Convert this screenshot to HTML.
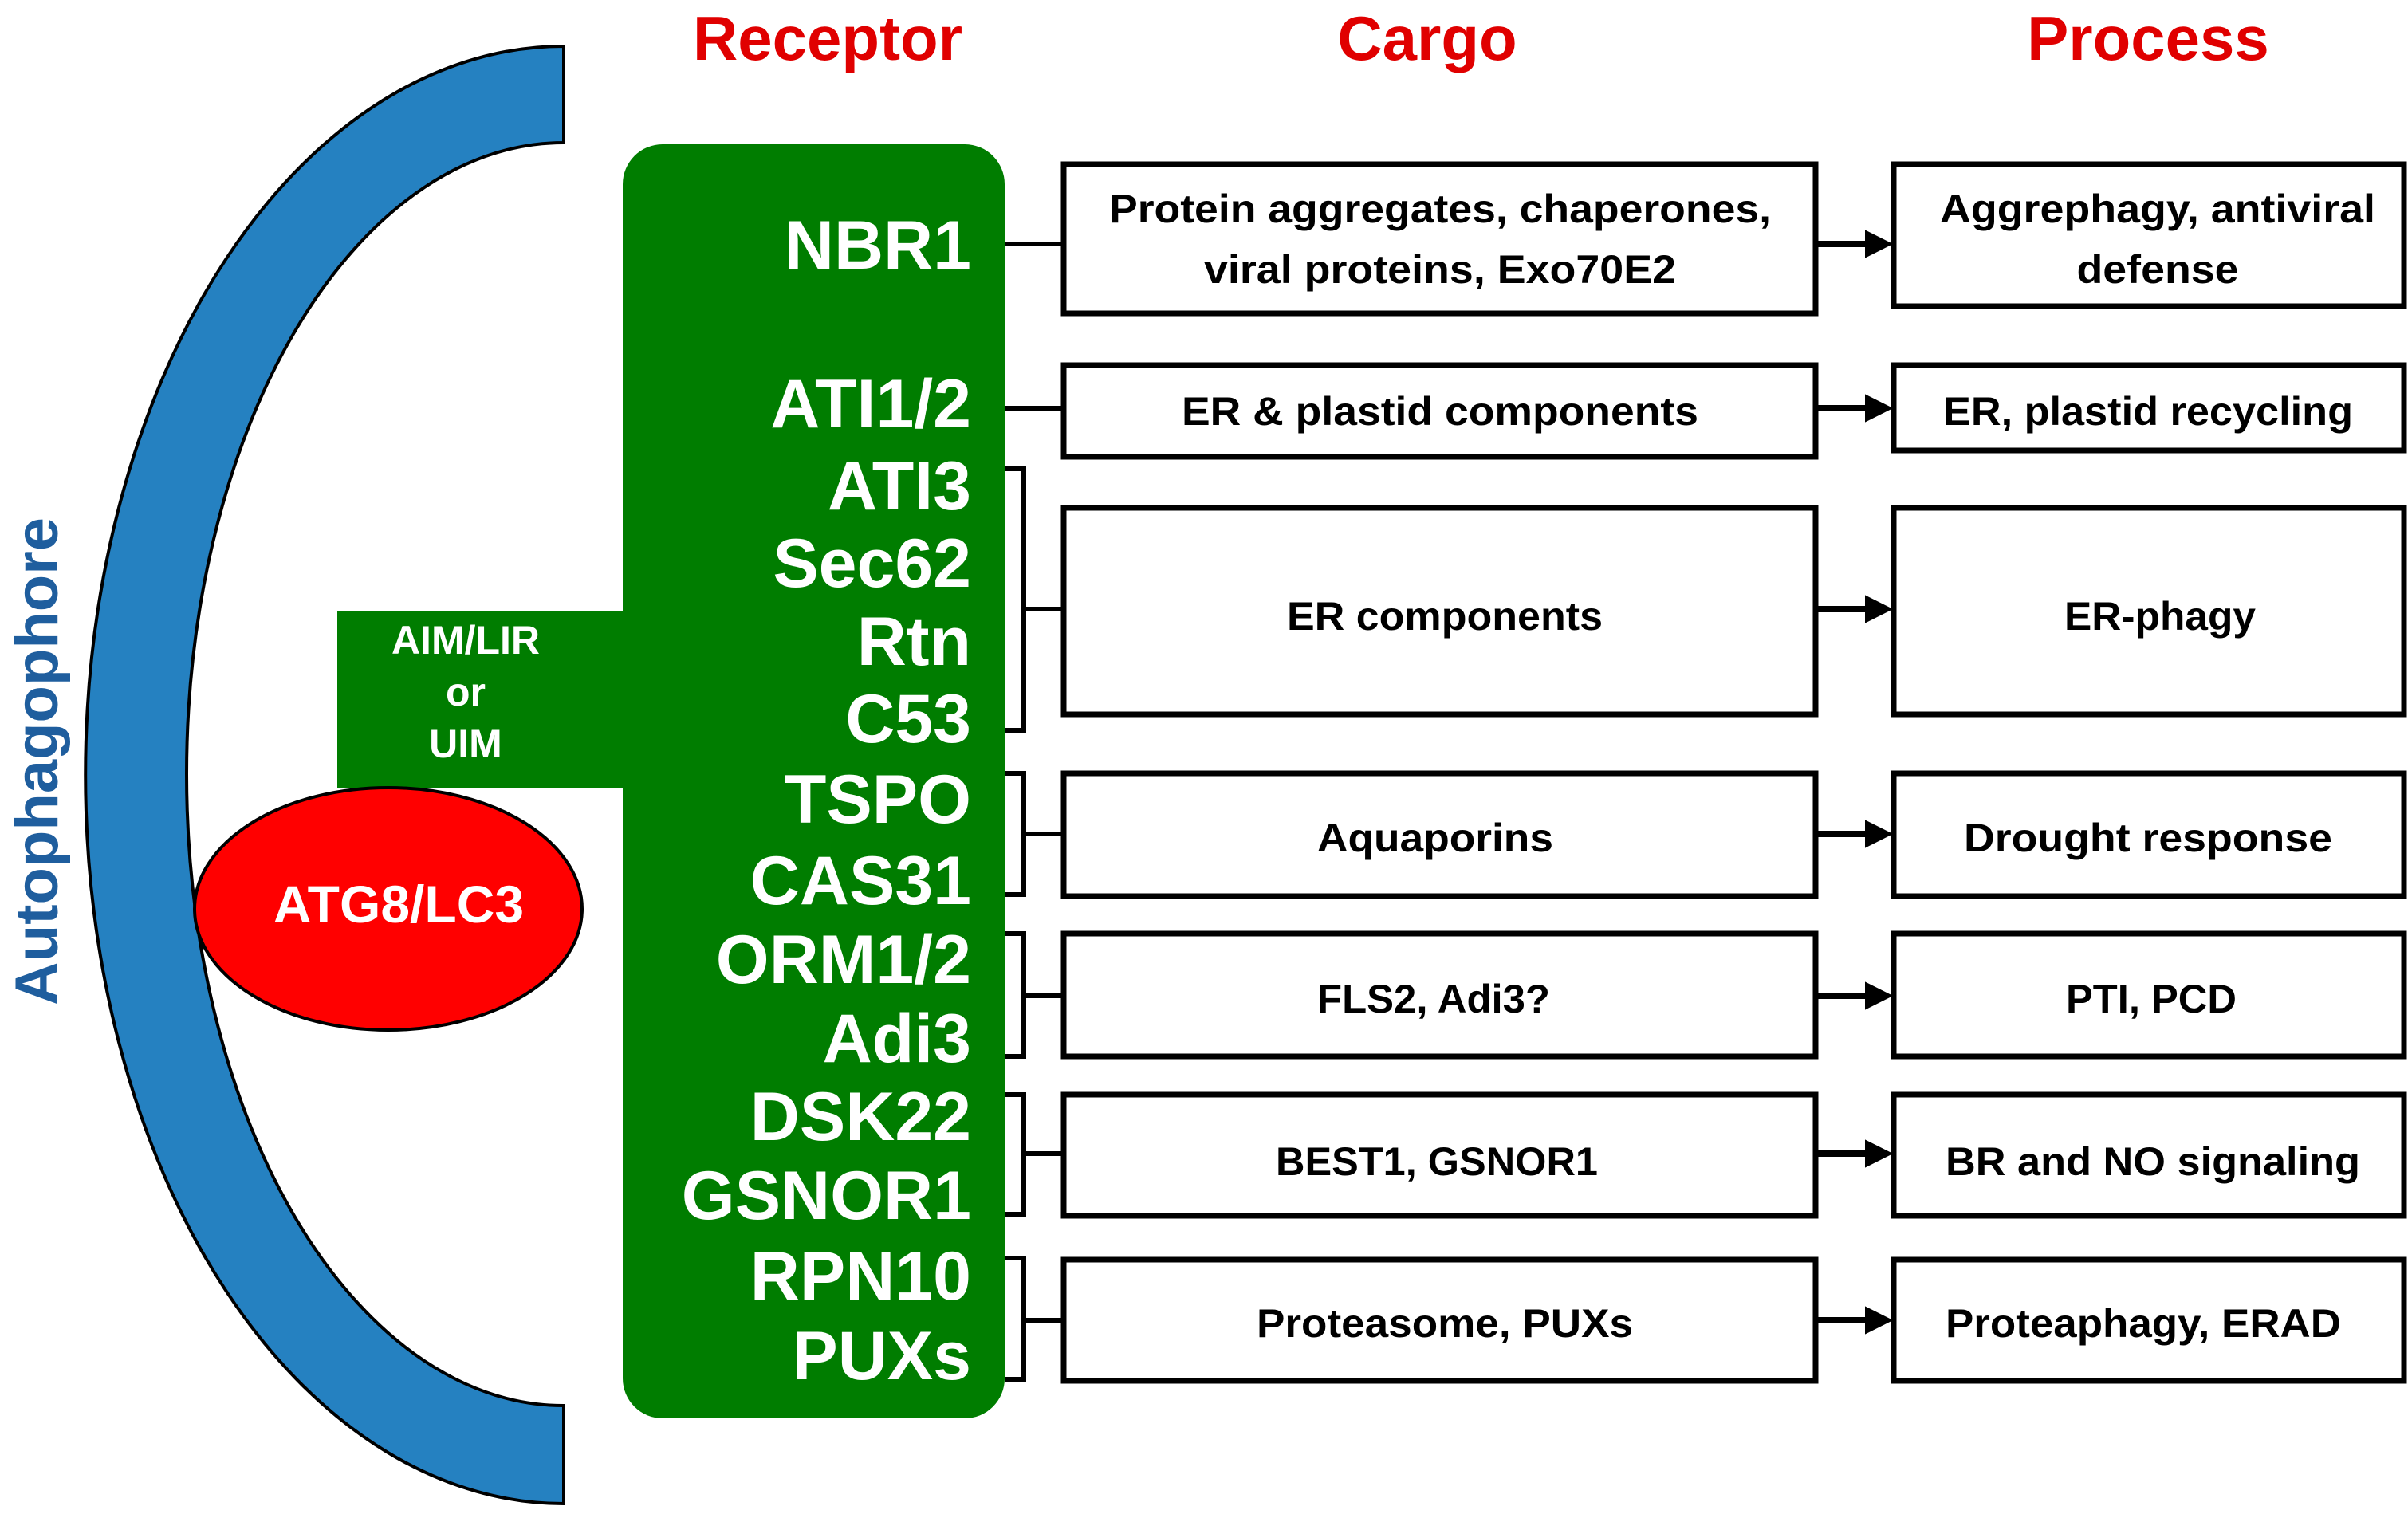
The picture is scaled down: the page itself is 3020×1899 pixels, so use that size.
<!DOCTYPE html>
<html><head><meta charset="utf-8"><style>html,body{margin:0;padding:0;background:#fff}svg{display:block}</style></head>
<body>
<svg width="3020" height="1899" viewBox="0 0 3020 1899" xmlns="http://www.w3.org/2000/svg" font-family="Liberation Sans, sans-serif" font-weight="bold">
<path d="M707,58 A600,914 0 0 0 707,1886 L707,1763 A473,792 0 0 1 707,179 Z" fill="#2581C1" stroke="#000" stroke-width="4"/>
<text transform="translate(72,955) rotate(-90)" text-anchor="middle" font-size="76" fill="#1F5E9E">Autophagophore</text>
<g fill="#E00000" font-size="78" text-anchor="middle">
<text x="1038" y="75">Receptor</text>
<text x="1790" y="75">Cargo</text>
<text x="2694" y="75">Process</text>
</g>
<rect x="423" y="766" width="380" height="222" fill="#007D00"/>
<rect x="781" y="181" width="479" height="1598" rx="50" fill="#007D00"/>
<g fill="#fff" font-size="50" text-anchor="middle">
<text x="584" y="820">AIM/LIR</text>
<text x="584" y="885">or</text>
<text x="584" y="950">UIM</text>
</g>
<ellipse cx="487" cy="1140" rx="243" ry="152" fill="#FF0000" stroke="#000" stroke-width="4"/>
<text x="500" y="1157" fill="#fff" font-size="66" text-anchor="middle">ATG8/LC3</text>
<g fill="#fff" font-size="86" text-anchor="end">
<text x="1218" y="337">NBR1</text>
<text x="1218" y="536">ATI1/2</text>
<text x="1218" y="639">ATI3</text>
<text x="1218" y="736">Sec62</text>
<text x="1218" y="834">Rtn</text>
<text x="1218" y="931">C53</text>
<text x="1218" y="1032">TSPO</text>
<text x="1218" y="1134">CAS31</text>
<text x="1218" y="1233">ORM1/2</text>
<text x="1218" y="1332">Adi3</text>
<text x="1218" y="1430">DSK22</text>
<text x="1218" y="1529">GSNOR1</text>
<text x="1218" y="1630">RPN10</text>
<text x="1218" y="1730">PUXs</text>
</g>
<g fill="none" stroke="#000" stroke-width="6">
<path d="M1260,306 H1334"/>
<path d="M1260,512 H1334"/>
<path d="M1260,588 H1284 V916 H1260 M1284,764 H1334"/>
<path d="M1260,970 H1284 V1122 H1260 M1284,1046 H1334"/>
<path d="M1260,1171 H1284 V1325 H1260 M1284,1249 H1334"/>
<path d="M1260,1373 H1284 V1523 H1260 M1284,1447 H1334"/>
<path d="M1260,1578 H1284 V1730 H1260 M1284,1656 H1334"/>
</g>
<g fill="#fff" stroke="#000" stroke-width="7">
<rect x="1334" y="206" width="943" height="187"/>
<rect x="2375" y="206" width="640" height="178"/>
<rect x="1334" y="458" width="943" height="115"/>
<rect x="2375" y="458" width="640" height="107"/>
<rect x="1334" y="637" width="943" height="259"/>
<rect x="2375" y="637" width="640" height="259"/>
<rect x="1334" y="970" width="943" height="154"/>
<rect x="2375" y="970" width="640" height="154"/>
<rect x="1334" y="1171" width="943" height="154"/>
<rect x="2375" y="1171" width="640" height="154"/>
<rect x="1334" y="1373" width="943" height="152"/>
<rect x="2375" y="1373" width="640" height="152"/>
<rect x="1334" y="1580" width="943" height="152"/>
<rect x="2375" y="1580" width="640" height="152"/>
</g>
<g stroke="#000" stroke-width="8" fill="#000">
<path d="M2277,306 H2345"/><path d="M2372,306 l-32,-16 v32 z" stroke-width="2"/>
<path d="M2277,512 H2345"/><path d="M2372,512 l-32,-16 v32 z" stroke-width="2"/>
<path d="M2277,764 H2345"/><path d="M2372,764 l-32,-16 v32 z" stroke-width="2"/>
<path d="M2277,1046 H2345"/><path d="M2372,1046 l-32,-16 v32 z" stroke-width="2"/>
<path d="M2277,1249 H2345"/><path d="M2372,1249 l-32,-16 v32 z" stroke-width="2"/>
<path d="M2277,1447 H2345"/><path d="M2372,1447 l-32,-16 v32 z" stroke-width="2"/>
<path d="M2277,1656 H2345"/><path d="M2372,1656 l-32,-16 v32 z" stroke-width="2"/>
</g>
<g fill="#000" font-size="50" text-anchor="middle">
<text x="1806" y="279" textLength="830" lengthAdjust="spacingAndGlyphs">Protein aggregates, chaperones,</text>
<text x="1806" y="355" textLength="592" lengthAdjust="spacingAndGlyphs">viral proteins, Exo70E2</text>
<text x="2706" y="279" textLength="546" lengthAdjust="spacingAndGlyphs">Aggrephagy, antiviral</text>
<text x="2706" y="355" textLength="203" lengthAdjust="spacingAndGlyphs">defense</text>
<text x="1806" y="533" textLength="648" lengthAdjust="spacingAndGlyphs">ER &amp; plastid components</text>
<text x="2694" y="533" textLength="514" lengthAdjust="spacingAndGlyphs">ER, plastid recycling</text>
<text x="1812" y="790" textLength="396" lengthAdjust="spacingAndGlyphs">ER components</text>
<text x="2709" y="790" textLength="240" lengthAdjust="spacingAndGlyphs">ER-phagy</text>
<text x="1800" y="1068" textLength="296" lengthAdjust="spacingAndGlyphs">Aquaporins</text>
<text x="2694" y="1068" textLength="462" lengthAdjust="spacingAndGlyphs">Drought response</text>
<text x="1798" y="1270" textLength="292" lengthAdjust="spacingAndGlyphs">FLS2, Adi3?</text>
<text x="2698" y="1270" textLength="214" lengthAdjust="spacingAndGlyphs">PTI, PCD</text>
<text x="1802" y="1474" textLength="404" lengthAdjust="spacingAndGlyphs">BEST1, GSNOR1</text>
<text x="2700" y="1474" textLength="520" lengthAdjust="spacingAndGlyphs">BR and NO signaling</text>
<text x="1812" y="1677" textLength="472" lengthAdjust="spacingAndGlyphs">Proteasome, PUXs</text>
<text x="2688" y="1677" textLength="496" lengthAdjust="spacingAndGlyphs">Proteaphagy, ERAD</text>
</g>
</svg>
</body></html>
